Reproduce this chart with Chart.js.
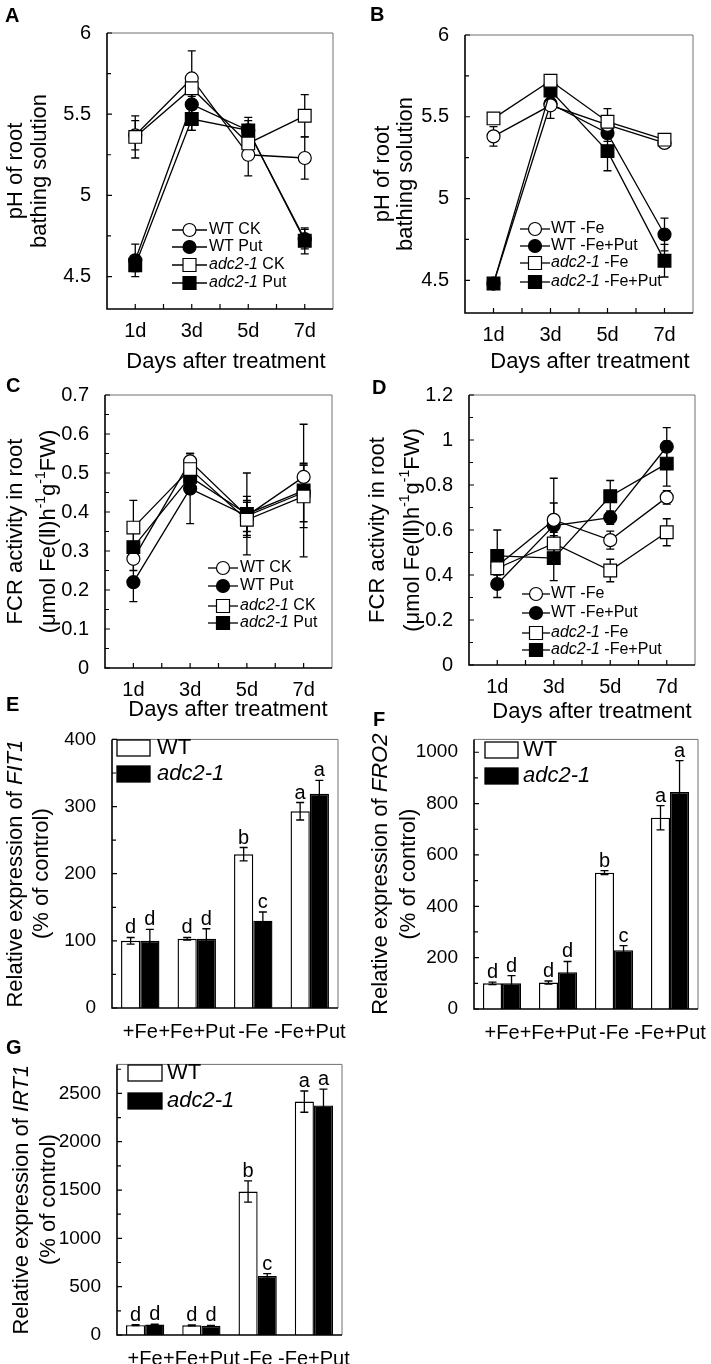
<!DOCTYPE html>
<html>
<head>
<meta charset="utf-8">
<title>Putrescine, adc2-1 and iron deficiency responses</title>
<script src="https://cdn.jsdelivr.net/npm/chart.js"></script>
<style>
  body { margin: 0; background: #fff; }
  #page { position: relative; width: 711px; height: 1364px; overflow: hidden; }
  #page canvas { position: absolute; }
  .tag { position: absolute; font: bold 20px 'Liberation Sans', Arial, sans-serif; line-height: 1; }
</style>
</head>
<body>
<div id="page">
  <canvas id="chartA"></canvas>
  <canvas id="chartB"></canvas>
  <canvas id="chartC"></canvas>
  <canvas id="chartD"></canvas>
  <canvas id="chartE"></canvas>
  <canvas id="chartF"></canvas>
  <canvas id="chartG"></canvas>
  <div class="tag" style="left:5px;top:5px">A</div>
  <div class="tag" style="left:370px;top:4px">B</div>
  <div class="tag" style="left:6px;top:375px">C</div>
  <div class="tag" style="left:372px;top:377px">D</div>
  <div class="tag" style="left:6px;top:694px">E</div>
  <div class="tag" style="left:373px;top:709px">F</div>
  <div class="tag" style="left:6px;top:1037px">G</div>
</div>
<script>
const FONT = "'Liberation Sans', Arial, 'DejaVu Sans', 'Noto Sans CJK SC', sans-serif";
Chart.defaults.font.family = FONT;
Chart.defaults.color = '#000';

// ---- time course (A-D) ----
const dayLabels = ['1d', '3d', '5d', '7d'];
const dayValues = [1, 3, 5, 7];
const dayTicks = [1, 2, 3, 4, 5, 6, 7];

const phTicks = [4.5, 5, 5.5, 6];
const fcrTicksC = [0, 0.1, 0.2, 0.3, 0.4, 0.5, 0.6, 0.7];
const fcrTicksD = [0, 0.2, 0.4, 0.6, 0.8, 1, 1.2];

const ckLabels = ['WT CK', 'WT Put', '*adc2-1* CK', '*adc2-1* Put'];
const feLabels = ['WT -Fe', 'WT -Fe+Put', '*adc2-1* -Fe', '*adc2-1* -Fe+Put'];

// A: pH, +Fe
const phWtCk = [5.37, 5.72, 5.25, 5.23];
const phWtCkErr = [0.09, 0.17, 0.13, 0.13];
const phWtPut = [4.60, 5.56, 5.40, 4.73];
const phWtPutErr = [0.10, 0.16, 0.06, 0.06];
const phAdcCk = [5.36, 5.66, 5.32, 5.49];
const phAdcCkErr = [0.13, 0.05, 0.06, 0.13];
const phAdcPut = [4.57, 5.47, 5.40, 4.72];
const phAdcPutErr = [0.04, 0.07, 0.08, 0.08];

// B: pH, -Fe
const phWtFe = [5.38, 5.57, 5.45, 5.34];
const phWtFeErr = [0.06, 0.02, 0.04, 0.02];
const phWtFePut = [4.48, 5.58, 5.40, 4.78];
const phWtFePutErr = [0.02, 0.09, 0.05, 0.10];
const phAdcFe = [5.49, 5.72, 5.47, 5.36];
const phAdcFeErr = [0.03, 0.03, 0.08, 0.02];
const phAdcFePut = [4.48, 5.66, 5.29, 4.62];
const phAdcFePutErr = [0.02, 0.04, 0.12, 0.10];

// C: FCR, +Fe
const fcrWtCk = [0.28, 0.53, 0.39, 0.49];
const fcrWtCkErr = [0.03, 0.02, 0.04, 0.03];
const fcrWtPut = [0.22, 0.46, 0.39, 0.45];
const fcrWtPutErr = [0.05, 0.09, 0.05, 0.075];
const fcrAdcCk = [0.36, 0.51, 0.38, 0.44];
const fcrAdcCkErr = [0.07, 0.03, 0.045, 0.08];
const fcrAdcPut = [0.31, 0.49, 0.395, 0.455];
const fcrAdcPutErr = [0.04, 0.04, 0.105, 0.17];

// D: FCR, -Fe
const fcrWtFe = [0.44, 0.645, 0.555, 0.745];
const fcrWtFeErr = [0.04, 0.185, 0.04, 0.03];
const fcrWtFePut = [0.36, 0.62, 0.655, 0.97];
const fcrWtFePutErr = [0.06, 0.10, 0.03, 0.085];
const fcrAdcFe = [0.43, 0.54, 0.42, 0.59];
const fcrAdcFeErr = [0.05, 0.05, 0.05, 0.06];
const fcrAdcFePut = [0.485, 0.475, 0.75, 0.895];
const fcrAdcFePutErr = [0.115, 0.10, 0.07, 0.10];

// ---- gene expression (E-G) ----
const treatments = ['+Fe', '+Fe+Put', '-Fe', '-Fe+Put'];
const genotypes = ['WT', '*adc2-1*'];

const fit1Wt = [100, 103, 229, 293];
const fit1WtErr = [5, 2, 10, 13];
const fit1Adc = [100, 103, 130, 319];
const fit1AdcErr = [17, 15, 13, 20];
const fit1WtLetters = ['d', 'd', 'b', 'a'];
const fit1AdcLetters = ['d', 'd', 'c', 'a'];
const fit1Ticks = [0, 100, 200, 300, 400];

const fro2Wt = [100, 103, 531, 745];
const fro2WtErr = [5, 6, 8, 47];
const fro2Adc = [100, 143, 229, 845];
const fro2AdcErr = [30, 42, 18, 122];
const fro2WtLetters = ['d', 'd', 'b', 'a'];
const fro2AdcLetters = ['d', 'd', 'c', 'a'];
const fro2Ticks = [0, 200, 400, 600, 800, 1000];

const irt1Wt = [102, 100, 1485, 2415];
const irt1WtErr = [6, 5, 110, 110];
const irt1Adc = [108, 95, 610, 2375];
const irt1AdcErr = [5, 5, 25, 170];
const irt1WtLetters = ['d', 'd', 'b', 'a'];
const irt1AdcLetters = ['d', 'd', 'c', 'a'];
const irt1Ticks = [0, 500, 1000, 1500, 2000, 2500];

const phTitle = ['pH of root', 'bathing solution'];
const fcrTitle = ['FCR activity in root', '(μmol Fe(Ⅱ)h^-1^g^-1^FW)'];
const fit1Title = ['Relative expression of *FIT1*', '(% of control)'];
const fro2Title = ['Relative expression of *FRO2*', '(% of control)'];
const irt1Title = ['Relative expression of *IRT1*', '(% of control)'];
const daysTitle = 'Days after treatment';

// marker look of the four time-course series, in legend order
const markers = [
    { style: 'circle', fill: '#fff' },
    { style: 'circle', fill: '#000' },
    { style: 'rect', fill: '#fff' },
    { style: 'rect', fill: '#000' },
];

// page layout of every panel (page pixels)
const panels = {
    A: { box: { left: 0, top: 0, width: 355, height: 375 }, area: { left: 107, top: 33, right: 333, bottom: 309 },
        yTitleX: [16, 40], xTitle: { x: 226, y: 362 },
        legend: { rows: [230, 247, 265, 283], x1: 172, x2: 207, tx: 209 } },
    B: { box: { left: 355, top: 0, width: 356, height: 375 }, area: { left: 465, top: 35, right: 693, bottom: 313 },
        yTitleX: [383, 406], xTitle: { x: 590, y: 362 },
        legend: { rows: [229, 246, 263, 282], x1: 520, x2: 550, tx: 551 } },
    C: { box: { left: 0, top: 375, width: 355, height: 355 }, area: { left: 105, top: 393, right: 332, bottom: 668 },
        yTitleX: [16, 49], xTitle: { x: 228, y: 710 },
        legend: { rows: [568, 586, 606, 623], x1: 208, x2: 238, tx: 240 } },
    D: { box: { left: 355, top: 375, width: 356, height: 355 }, area: { left: 469, top: 390, right: 695, bottom: 665 },
        yTitleX: [378, 413], xTitle: { x: 592, y: 712 },
        legend: { rows: [594, 613, 633, 650], x1: 522, x2: 550, tx: 551 } },
    E: { box: { left: 0, top: 720, width: 355, height: 325 }, area: { left: 112, top: 733, right: 338, bottom: 1008 },
        yTitleX: [16, 42],
        legend: { rows: [748, 774], x: 117, w: 33, h: 16, tx: 157 } },
    F: { box: { left: 355, top: 720, width: 356, height: 325 }, area: { left: 474, top: 735, right: 702, bottom: 1009 },
        yTitleX: [381, 409],
        legend: { rows: [750, 776], x: 485, w: 33, h: 16, tx: 523 } },
    G: { box: { left: 0, top: 1045, width: 355, height: 319 }, area: { left: 117, top: 1060, right: 345, bottom: 1335 },
        yTitleX: [22, 49],
        legend: { rows: [1073, 1101], x: 128, w: 34, h: 16, tx: 167 } },
};

const decorConfigs = {};

// ---- text helpers ----
const rich = (str) => str.split(/(\*[^*]+\*|\^[^^]+\^)/).filter(Boolean).map((p) => {
    if (p[0] === '*') return { t: p.slice(1, -1), italic: true };
    if (p[0] === '^') return { t: p.slice(1, -1), sup: true };
    return { t: p };
});

const fontFor = (seg, size) => `${seg.italic ? 'italic ' : ''}${seg.sup ? Math.round(size * 0.62) : size}px ${FONT}`;

const drawRich = (ctx, str, x, y, size, align = 'left') => {
    const segs = rich(str);
    const widths = segs.map((s) => { ctx.font = fontFor(s, size); return ctx.measureText(s.t).width; });
    const total = widths.reduce((a, b) => a + b, 0);
    let cx = align === 'center' ? x - total / 2 : x;
    ctx.textAlign = 'left';
    ctx.textBaseline = 'middle';
    segs.forEach((s, i) => {
        ctx.font = fontFor(s, size);
        ctx.fillText(s.t, cx, s.sup ? y - size * 0.35 : y);
        cx += widths[i];
    });
};

const drawMarker = (ctx, style, fill, x, y, size) => {
    ctx.beginPath();
    if (style === 'rect') ctx.rect(x - size / 2, y - size / 2, size, size);
    else ctx.arc(x, y, size / 2, 0, Math.PI * 2);
    ctx.fillStyle = fill;
    ctx.fill();
    ctx.lineWidth = 1.2;
    ctx.strokeStyle = '#000';
    ctx.stroke();
};

// ---- drawing pieces ----
const drawErrorBars = (chart) => {
    const { ctx } = chart;
    const yScale = chart.scales.y;
    ctx.save();
    ctx.strokeStyle = '#000';
    ctx.lineWidth = 1.3;
    chart.data.datasets.forEach((ds, di) => {
        if (!ds.errors) return;
        chart.getDatasetMeta(di).data.forEach((el, i) => {
            const raw = ds.data[i];
            const v = typeof raw === 'object' ? raw.y : raw;
            const hi = yScale.getPixelForValue(v + ds.errors[i]);
            const lo = yScale.getPixelForValue(v - ds.errors[i]);
            ctx.beginPath();
            ctx.moveTo(el.x, hi); ctx.lineTo(el.x, lo);
            ctx.moveTo(el.x - 4, hi); ctx.lineTo(el.x + 4, hi);
            ctx.moveTo(el.x - 4, lo); ctx.lineTo(el.x + 4, lo);
            ctx.stroke();
        });
    });
    ctx.restore();
};

const drawLetters = (chart) => {
    const { ctx } = chart;
    const yScale = chart.scales.y;
    ctx.save();
    ctx.fillStyle = '#000';
    ctx.font = `20px ${FONT}`;
    ctx.textAlign = 'center';
    ctx.textBaseline = 'alphabetic';
    chart.data.datasets.forEach((ds, di) => {
        chart.getDatasetMeta(di).data.forEach((el, i) => {
            const y = yScale.getPixelForValue(ds.data[i] + ds.errors[i]) - 4;
            ctx.fillText(ds.letters[i], el.x, y);
        });
    });
    ctx.restore();
};

const drawFrame = (chart, cfg) => {
    const { ctx } = chart;
    const { left, right, top, bottom } = chart.chartArea;
    const yScale = chart.scales.y;
    ctx.save();
    ctx.strokeStyle = '#707070';
    ctx.lineWidth = 1;
    ctx.beginPath();
    ctx.moveTo(left, top); ctx.lineTo(right, top); ctx.lineTo(right, bottom);
    ctx.stroke();

    ctx.strokeStyle = '#000';
    ctx.lineWidth = 1.6;
    ctx.beginPath();
    ctx.moveTo(left, top); ctx.lineTo(left, bottom); ctx.lineTo(right, bottom);
    ctx.stroke();

    // inward ticks, major and minor on y
    ctx.lineWidth = 1.2;
    ctx.beginPath();
    const yVals = yScale.ticks.map((t) => t.value);
    const step = yVals[1] - yVals[0];
    yVals.forEach((v) => {
        const y = yScale.getPixelForValue(v);
        ctx.moveTo(left, y); ctx.lineTo(left + 5, y);
    });
    [yVals[0] - step / 2, ...yVals.map((v) => v + step / 2)]
        .filter((v) => v > yScale.min && v < yScale.max)
        .forEach((v) => {
            const y = yScale.getPixelForValue(v);
            ctx.moveTo(left, y); ctx.lineTo(left + 4, y);
        });
    if (cfg.kind === 'line') {
        chart.scales.x.ticks.forEach((t) => {
            const x = chart.scales.x.getPixelForValue(t.value);
            ctx.moveTo(x, bottom); ctx.lineTo(x, bottom - 5);
        });
    }
    ctx.stroke();
    ctx.restore();
};

const drawTitles = (chart, cfg) => {
    const { ctx } = chart;
    const { top, bottom } = chart.chartArea;
    ctx.save();
    ctx.fillStyle = '#000';
    cfg.yTitle.forEach((line, k) => {
        ctx.save();
        ctx.translate(cfg.yTitleX[k] - cfg.box.left, (top + bottom) / 2);
        ctx.rotate(-Math.PI / 2);
        drawRich(ctx, line, 0, 0, 22, 'center');
        ctx.restore();
    });
    if (cfg.xTitle) {
        drawRich(ctx, daysTitle, cfg.xTitle.x - cfg.box.left, cfg.xTitle.y - cfg.box.top, 22, 'center');
    }
    ctx.restore();
};

const drawLineLegend = (chart, cfg) => {
    const { ctx } = chart;
    const lg = cfg.legend;
    const ox = cfg.box.left;
    const oy = cfg.box.top;
    ctx.save();
    chart.data.datasets.forEach((ds, k) => {
        const y = lg.rows[k] - oy;
        ctx.strokeStyle = '#000';
        ctx.lineWidth = 1.3;
        ctx.beginPath();
        ctx.moveTo(lg.x1 - ox, y); ctx.lineTo(lg.x2 - ox, y);
        ctx.stroke();
        drawMarker(ctx, ds.pointStyle, ds.pointBackgroundColor, (lg.x1 + lg.x2) / 2 - ox, y, 13);
        ctx.fillStyle = '#000';
        drawRich(ctx, ds.label, lg.tx - ox, y, 16);
    });
    ctx.restore();
};

const drawBarLegend = (chart, cfg) => {
    const { ctx } = chart;
    const lg = cfg.legend;
    const ox = cfg.box.left;
    const oy = cfg.box.top;
    ctx.save();
    chart.data.datasets.forEach((ds, k) => {
        const y = lg.rows[k] - oy;
        ctx.fillStyle = ds.backgroundColor;
        ctx.strokeStyle = '#000';
        ctx.lineWidth = 1.3;
        ctx.fillRect(lg.x - ox, y - lg.h / 2, lg.w, lg.h);
        ctx.strokeRect(lg.x - ox, y - lg.h / 2, lg.w, lg.h);
        ctx.fillStyle = '#000';
        drawRich(ctx, ds.label, lg.tx - ox, y, 22);
    });
    ctx.restore();
};

Chart.register({
    id: 'decor',
    beforeDatasetsDraw(chart) {
        const cfg = decorConfigs[chart.canvas.id];
        if (cfg && cfg.kind === 'line') drawErrorBars(chart);
    },
    afterDatasetsDraw(chart) {
        const cfg = decorConfigs[chart.canvas.id];
        if (!cfg) return;
        if (cfg.kind === 'bar') {
            drawErrorBars(chart);
            drawLetters(chart);
        }
        drawFrame(chart, cfg);
        drawTitles(chart, cfg);
        if (cfg.kind === 'line') drawLineLegend(chart, cfg);
        else drawBarLegend(chart, cfg);
    },
});

// ---- chart builders ----
const place = (id, box) => {
    const canvas = document.getElementById(id);
    canvas.width = box.width;
    canvas.height = box.height;
    canvas.style.left = `${box.left}px`;
    canvas.style.top = `${box.top}px`;
    return canvas;
};

const baseOptions = (panel, xScale, yScale) => ({
    responsive: false,
    animation: false,
    layout: {
        padding: {
            left: 0,
            top: panel.area.top - panel.box.top,
            right: panel.box.left + panel.box.width - panel.area.right,
            bottom: 0,
        },
    },
    plugins: { legend: { display: false }, tooltip: { enabled: false } },
    scales: {
        x: Object.assign({
            grid: { display: false },
            border: { display: false },
            afterFit: (s) => { s.height = panel.box.top + panel.box.height - panel.area.bottom; },
        }, xScale),
        y: Object.assign({
            grid: { display: false },
            border: { display: false },
            afterFit: (s) => { s.width = panel.area.left - panel.box.left; },
        }, yScale),
    },
});

const makeLine = (id, panel, series, errors, labels, title, yMin, yMax, yTicks) => {
    decorConfigs[id] = Object.assign({ kind: 'line', yTitle: title }, panel);
    return new Chart(place(id, panel.box), {
        type: 'line',
        data: {
            datasets: series.map((vals, k) => ({
                label: labels[k],
                data: dayValues.map((x, i) => ({ x, y: vals[i] })),
                errors: errors[k],
                order: k < 2 ? 1 : 0,
                borderColor: '#000',
                borderWidth: 1.3,
                pointStyle: markers[k].style,
                pointRadius: markers[k].style === 'rect' ? 9 : 6.5,
                pointBackgroundColor: markers[k].fill,
                pointBorderColor: '#000',
                pointBorderWidth: 1.2,
            })),
        },
        options: baseOptions(panel, {
            type: 'linear',
            min: 0,
            max: 8,
            afterBuildTicks: (s) => { s.ticks = dayTicks.map((v) => ({ value: v })); },
            ticks: {
                autoSkip: false,
                maxRotation: 0,
                padding: 2,
                font: { size: 20 },
                callback: (v) => dayLabels[dayValues.indexOf(v)] ?? '',
            },
        }, {
            min: yMin,
            max: yMax,
            afterBuildTicks: (s) => { s.ticks = yTicks.map((v) => ({ value: v })); },
            ticks: { padding: 8, font: { size: 20 }, callback: (v) => String(v) },
        }),
    });
};

const makeBar = (id, panel, wt, wtErr, wtLetters, adc, adcErr, adcLetters, title, yMax, yTicks) => {
    decorConfigs[id] = Object.assign({ kind: 'bar', yTitle: title }, panel);
    const common = { borderColor: '#000', borderWidth: 1.4, categoryPercentage: 0.68, barPercentage: 1 };
    return new Chart(place(id, panel.box), {
        type: 'bar',
        data: {
            labels: treatments,
            datasets: [
                Object.assign({ label: genotypes[0], data: wt, errors: wtErr, letters: wtLetters, backgroundColor: '#fff' }, common),
                Object.assign({ label: genotypes[1], data: adc, errors: adcErr, letters: adcLetters, backgroundColor: '#000' }, common),
            ],
        },
        options: baseOptions(panel, {
            type: 'category',
            ticks: { autoSkip: false, maxRotation: 0, minRotation: 0, padding: 4, font: { size: 20 } },
        }, {
            min: 0,
            max: yMax,
            afterBuildTicks: (s) => { s.ticks = yTicks.map((v) => ({ value: v })); },
            ticks: { padding: 8, font: { size: 19 }, callback: (v) => String(v) },
        }),
    });
};

makeLine('chartA', panels.A,
    [phWtCk, phWtPut, phAdcCk, phAdcPut],
    [phWtCkErr, phWtPutErr, phAdcCkErr, phAdcPutErr],
    ckLabels, phTitle, 4.3, 6, phTicks);

makeLine('chartB', panels.B,
    [phWtFe, phWtFePut, phAdcFe, phAdcFePut],
    [phWtFeErr, phWtFePutErr, phAdcFeErr, phAdcFePutErr],
    feLabels, phTitle, 4.3, 6, phTicks);

makeLine('chartC', panels.C,
    [fcrWtCk, fcrWtPut, fcrAdcCk, fcrAdcPut],
    [fcrWtCkErr, fcrWtPutErr, fcrAdcCkErr, fcrAdcPutErr],
    ckLabels, fcrTitle, 0, 0.7, fcrTicksC);

makeLine('chartD', panels.D,
    [fcrWtFe, fcrWtFePut, fcrAdcFe, fcrAdcFePut],
    [fcrWtFeErr, fcrWtFePutErr, fcrAdcFeErr, fcrAdcFePutErr],
    feLabels, fcrTitle, 0, 1.2, fcrTicksD);

makeBar('chartE', panels.E, fit1Wt, fit1WtErr, fit1WtLetters, fit1Adc, fit1AdcErr, fit1AdcLetters, fit1Title, 400, fit1Ticks);
makeBar('chartF', panels.F, fro2Wt, fro2WtErr, fro2WtLetters, fro2Adc, fro2AdcErr, fro2AdcLetters, fro2Title, 1050, fro2Ticks);
makeBar('chartG', panels.G, irt1Wt, irt1WtErr, irt1WtLetters, irt1Adc, irt1AdcErr, irt1AdcLetters, irt1Title, 2800, irt1Ticks);
</script>
</body>
</html>
